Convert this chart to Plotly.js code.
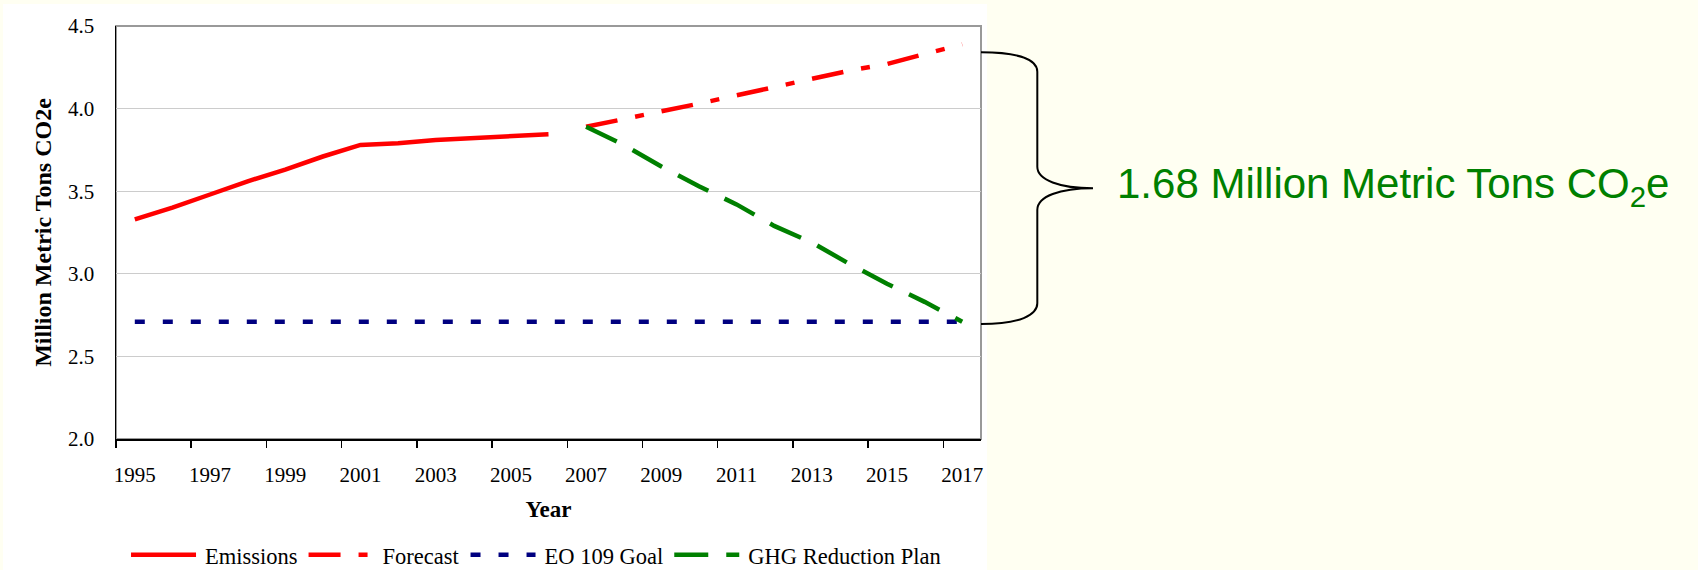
<!DOCTYPE html>
<html><head><meta charset="utf-8">
<script src="https://cdn.plot.ly/plotly-3.0.1.min.js"></script>
<style>html,body{margin:0;padding:0;background:#FFFFF2;}#chart{width:1698px;height:570px;}</style>
</head><body><div id="chart"></div>
<script>
const years = ['1995','1996','1997','1998','1999','2000','2001','2002','2003','2004','2005','2006',
               '2007','2008','2009','2010','2011','2012','2013','2014','2015','2016','2017'];
const emissionYears = ['1995','1996','1997','1998','1999','2000','2001','2002','2003','2004','2005','2006'];
const emissions = [3.33,3.40,3.48,3.56,3.63,3.71,3.78,3.79,3.81,3.82,3.83,3.845];
const projectionYears = ['2007','2008','2009','2010','2011','2012','2013','2014','2015','2016','2017'];
const forecast = [3.89,3.935,3.985,4.03,4.08,4.13,4.18,4.23,4.27,4.33,4.39];
const goal = [2.71,2.71,2.71,2.71,2.71,2.71,2.71,2.71,2.71,2.71,2.71,2.71,
              2.71,2.71,2.71,2.71,2.71,2.71,2.71,2.71,2.71,2.71,2.71];
const ghgPlan = [3.89,3.78,3.65,3.53,3.42,3.29,3.19,3.06,2.94,2.83,2.71];
const yTicks = [2.0,2.5,3.0,3.5,4.0,4.5];
const gapLabel = '1.68 Million Metric Tons CO<sub>2</sub>e';

const serif = 'Liberation Serif, Times New Roman, serif';
const traces = [
  {x: emissionYears, y: emissions, name: 'Emissions', mode: 'lines',
   line: {color: '#FF0000', width: 4.5}},
  {x: projectionYears, y: forecast, name: 'Forecast', mode: 'lines',
   line: {color: '#FF0000', width: 4.5, dash: '32px,18px,9px,18px'}},
  {x: years, y: goal, name: 'EO 109 Goal', mode: 'lines',
   line: {color: '#000080', width: 4.5, dash: '10px,18px'}},
  {x: projectionYears, y: ghgPlan, name: 'GHG Reduction Plan', mode: 'lines',
   line: {color: '#008000', width: 4.5, dash: '34px,18px'}}
];

const layout = {
  width: 1698, height: 570,
  margin: {l: 116, r: 717, t: 26, b: 131},
  paper_bgcolor: '#FFFFF2', plot_bgcolor: '#FFFFFF',
  font: {family: serif, size: 21, color: '#000000'},
  showlegend: true,
  legend: {orientation: 'h', x: 0.485, xanchor: 'center', yref: 'container', y: 0.026, yanchor: 'middle',
           font: {family: serif, size: 22.5, color: '#000000'}, itemwidth: 70,
           bgcolor: 'rgba(0,0,0,0)', traceorder: 'normal'},
  xaxis: {
    type: 'category', categoryorder: 'array', categoryarray: years, automargin: false,
    range: [-0.5, 22.5], tickmode: 'linear', tick0: 0, dtick: 2, tickangle: 0,
    tickson: 'boundaries', ticks: 'outside', ticklen: 7, tickcolor: '#000000', tickwidth: 1.5,
    showline: true, linecolor: '#000000', linewidth: 1.5, showgrid: false, zeroline: false,
    ticklabelstandoff: 16, tickfont: {family: serif, size: 21, color: '#000000'},
    title: {text: '<b>Year</b>', font: {family: serif, size: 23, color: '#000000'}, standoff: 15}
  },
  yaxis: {
    range: [2, 4.5], tickvals: yTicks, tickformat: '.1f', ticks: '', automargin: false,
    showline: true, linecolor: '#000000', linewidth: 1.5, showgrid: true,
    gridcolor: '#CCCCCC', gridwidth: 1, zeroline: false, ticklabelstandoff: 16,
    tickfont: {family: serif, size: 21, color: '#000000'},
    title: {text: '<b>Million Metric Tons CO2e</b>', font: {family: serif, size: 24, color: '#000000'}, standoff: 9}
  },
  shapes: [
    {type: 'rect', xref: 'paper', yref: 'paper', x0: -0.1306, x1: 1.0069, y0: -0.32, y1: 1.0533,
     fillcolor: '#FFFFFF', line: {width: 0}, layer: 'below'},
    {type: 'rect', xref: 'paper', yref: 'paper', x0: 0, x1: 1, y0: 0, y1: 1,
     line: {color: '#999999', width: 2}, layer: 'below'},
    {type: 'path', xref: 'paper', yref: 'y', layer: 'above',
     path: 'M 1,4.341 C 1.045,4.341 1.0651,4.294 1.0651,4.223 L 1.0651,3.648 ' +
           'C 1.0651,3.568 1.091,3.518 1.1295,3.518 C 1.091,3.518 1.0651,3.468 1.0651,3.386 ' +
           'L 1.0651,2.821 C 1.0651,2.75 1.045,2.696 1.0,2.696',
     line: {color: '#000000', width: 2}}
  ],
  annotations: [
    {text: gapLabel, xref: 'paper', yref: 'y', x: 1.1549, y: 3.53, xanchor: 'left', yanchor: 'middle',
     showarrow: false, font: {family: 'Liberation Sans, Arial, sans-serif', size: 42, color: '#008000'}}
  ]
};

Plotly.newPlot('chart', traces, layout, {displayModeBar: false, staticPlot: true}).then(function (gd) {
  // lengthen the legend line samples to match the original's longer keys
  gd.querySelectorAll('.legend path.js-line').forEach(function (p) {
    p.setAttribute('d', 'M6,0h65');
  });
});
</script>
</body></html>
